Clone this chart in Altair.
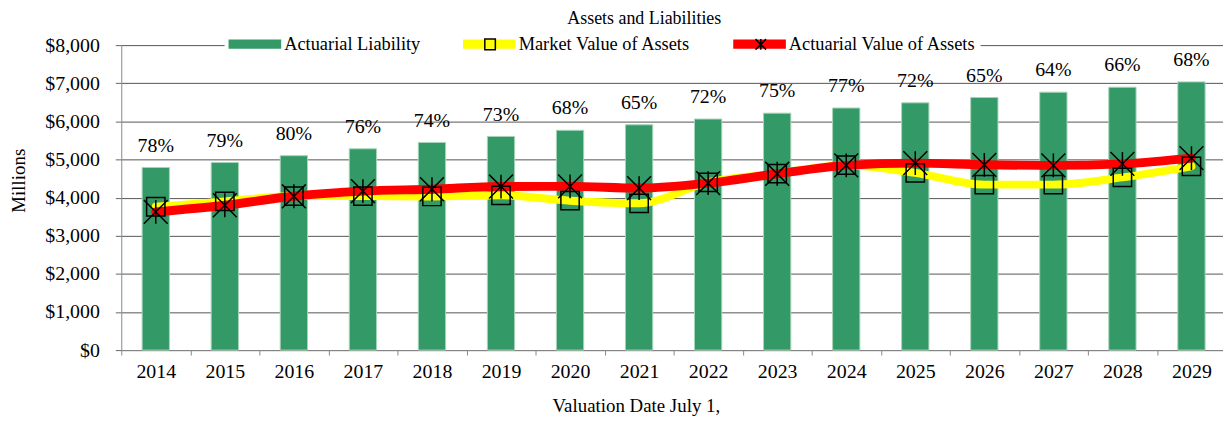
import altair as alt
import pandas as pd

# ---- data ----
years = ["2014", "2015", "2016", "2017", "2018", "2019", "2020", "2021",
         "2022", "2023", "2024", "2025", "2026", "2027", "2028", "2029"]
liability = [4790, 4920, 5100, 5280, 5445, 5605, 5765, 5910,
             6060, 6215, 6350, 6485, 6625, 6765, 6895, 7035]
market_value = [3760, 3900, 4040, 4040, 4030, 4060, 3920, 3850,
                4400, 4630, 4850, 4650, 4340, 4340, 4530, 4820]
actuarial_value = [3625, 3800, 4035, 4170, 4220, 4290, 4295, 4250,
                   4380, 4625, 4845, 4905, 4860, 4845, 4885, 5035]
funded_labels = ["78%", "79%", "80%", "76%", "74%", "73%", "68%", "65%",
                 "72%", "75%", "77%", "72%", "65%", "64%", "66%", "68%"]
series_names = ["Actuarial Liability", "Market Value of Assets", "Actuarial Value of Assets"]

# ---- styles ----
FONT = "Liberation Serif"
GREEN = "#339966"
YELLOW = "#FFFF00"
RED = "#FF0000"
STAR = "M-1,-1L1,1M1,-1L-1,1M0,-1L0,1"
P_BAND = "M-1,-0.18H1V0.18H-1Z"
P_NONE = "M-0.2,-0.2M0.2,0.2"
P_SQ = "M-0.2,-0.2H0.2V0.2H-0.2Z"
P_STAR_S = "M-0.2,-0.2L0.2,0.2M0.2,-0.2L-0.2,0.2M0,-0.2L0,0.2"

df = pd.DataFrame({
    "year": years,
    "liability": liability,
    "mva": market_value,
    "ava": actuarial_value,
    "label": funded_labels,
})
legend_df = pd.DataFrame({"series": series_names})

x_axis = alt.Axis(
    title="Valuation Date July 1,", labelAngle=0, tickBand="extent",
    labelFont=FONT, labelFontSize=20, labelColor="black", labelPadding=7,
    tickSize=5, tickColor="#888888", domainColor="#888888",
    titleFont=FONT, titleFontSize=19, titleFontWeight="normal", titleColor="black",
    titleX=518, titleY=56, titleAlign="center", titleBaseline="middle",
)
x_scale = alt.Scale(range=[0, 1112], paddingInner=0, paddingOuter=0)
y_axis = alt.Axis(
    title="Millions", format="$,.0f", values=[0, 1000, 2000, 3000, 4000, 5000, 6000, 7000, 8000],
    labelFont=FONT, labelFontSize=20, labelColor="black", labelPadding=16,
    tickSize=6, tickColor="#666666", domainColor="#888888",
    gridColor="#555555", gridWidth=1,
    titleFont=FONT, titleFontSize=19, titleFontWeight="normal", titleColor="black",
    titleX=-103, titleY=136, titleAlign="center", titleBaseline="middle", titleAngle=270,
)
y_scale = alt.Scale(domain=[0, 8000], nice=False)

X = alt.X("year:N", scale=x_scale, axis=x_axis, sort=years)


def Y(field):
    return alt.Y(f"{field}:Q", scale=y_scale, axis=y_axis)


base = alt.Chart(df)

bars = base.mark_bar(color=GREEN, stroke="#a6d4b8", strokeWidth=1,
                     width=alt.RelativeBandSize(0.395)).encode(x=X, y=Y("liability"))

labels = base.mark_text(font=FONT, fontSize=20, color="black", baseline="alphabetic",
                        dy=-16).encode(x=X, y=Y("liability"), text="label:N")

mva_line = base.mark_line(color=YELLOW, strokeWidth=8, interpolate="monotone",
                          strokeCap="round").encode(x=X, y=Y("mva"))
ava_line = base.mark_line(color=RED, strokeWidth=9, interpolate="monotone",
                          strokeCap="round").encode(x=X, y=Y("ava"))
mva_pts = base.mark_point(shape="square", size=340, filled=False, color="black",
                          strokeWidth=1.5, opacity=1).encode(x=X, y=Y("mva"))
ava_pts = base.mark_point(shape=STAR, size=576, filled=False, color="black",
                          strokeWidth=1.5, opacity=1).encode(x=X, y=Y("ava"))

leg_main = alt.Legend(
    orient="none", legendX=104, legendY=-31.5, direction="horizontal", title=None,
    fillColor="white", padding=4, columnPadding=42,
    labelFont=FONT, labelFontSize=18.5, labelColor="black", labelOffset=3, labelLimit=400,
    symbolType=P_BAND, symbolSize=2809, symbolStrokeWidth=0, zindex=1,
)
leg_over = alt.Legend(
    orient="none", legendX=103.25, legendY=-32.25, direction="horizontal", title=None,
    padding=4, columnPadding=40.5, values=series_names,
    labelFont=FONT, labelFontSize=18.5, labelOpacity=0, labelOffset=3, labelLimit=400,
    symbolSize=2809, symbolStrokeWidth=1.5, symbolStrokeColor="black",
    symbolFillColor="transparent", zindex=2,
)

legend_a = alt.Chart(legend_df).mark_point(filled=True, opacity=0).encode(
    fill=alt.Fill("series:N", scale=alt.Scale(domain=series_names, range=[GREEN, YELLOW, RED]),
                  legend=leg_main),
)
legend_b = alt.Chart(legend_df).mark_point(filled=False, opacity=0, color="black").encode(
    shape=alt.Shape("series:N",
                    scale=alt.Scale(domain=series_names + ["_"],
                                    range=[P_NONE, P_SQ, P_STAR_S, P_NONE]),
                    legend=leg_over),
)

chart = alt.layer(
    bars, labels, mva_line, ava_line, mva_pts, ava_pts, legend_a, legend_b
).properties(
    width=1109, height=307,
    title=alt.TitleParams("Assets and Liabilities", font=FONT, fontSize=18, fontWeight="normal",
                          color="black", anchor="middle", frame="group", dx=-28,
                          offset=10, dy=39, baseline="alphabetic", zindex=3),
    autosize=alt.AutoSizeParams(type="none"),
    padding={"left": 114, "top": 36, "right": 0, "bottom": 70},
    background="white",
).configure_view(stroke=None)

chart.save("out.html", embed_options={"renderer": "svg", "actions": False})
